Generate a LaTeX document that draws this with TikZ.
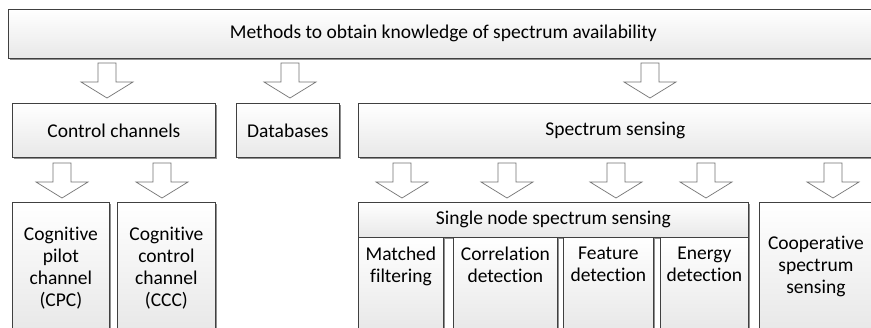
\documentclass[tikz,border=0pt]{standalone}
\usepackage{fontspec}
\setmainfont{Carlito}[Ligatures=NoCommon]
\usetikzlibrary{shadows}
\begin{document}
\begin{tikzpicture}[x=1pt,y=-1pt,
  box/.style={draw=black!75, line width=0.8pt, inner sep=0pt, anchor=north west,
    top color=white, bottom color=black!9,
    drop shadow={shadow xshift=2pt, shadow yshift=-2pt, fill=black!55, opacity=0.8}},
  lbl/.style={font=\fontsize{19.5}{22}\selectfont, align=center, inner sep=0pt},
  barrow/.style={draw=black!55, line width=0.7pt, fill=white, line join=miter},
  blockarrow/.pic={\draw[barrow] (-9,0) -- (9,0) -- (9,19) -- (26,19) -- (0,35) -- (-26,19) -- (-9,19) -- cycle;}]
\fill[white] (0,0) rectangle (871,327);
\useasboundingbox (0,0) rectangle (871,327);

% level 0
\node[box, minimum width=870pt, minimum height=49pt] (top) at (8,9) {};
\node[lbl] (toptxt) at (top.center) {Methods to obtain knowledge of spectrum availability};

% level 1
\node[box, minimum width=203pt, minimum height=54pt] (ctrl) at (12,103) {};
\node[lbl] (ctrltxt) at (ctrl.center) {Control channels};
\node[box, minimum width=103pt, minimum height=54pt] (db) at (236,103) {};
\node[lbl] (dbtxt) at (db.center) {Databases};
\node[box, minimum width=514pt, minimum height=54pt] (ss) at (358,103) {};
\node[lbl] (sstxt) at (ss.center) {Spectrum sensing};

% level 2
\node[box, minimum width=97pt, minimum height=127pt] (cpc) at (12,202) {};
\node[lbl] (cpctxt) at ([yshift=-2pt]cpc.center) {Cognitive\\pilot\\channel\\(CPC)};
\node[box, minimum width=98pt, minimum height=127pt] (ccc) at (117,202) {};
\node[lbl] (ccctxt) at ([yshift=-2pt]ccc.center) {Cognitive\\control\\channel\\(CCC)};

\node[box, minimum width=390pt, minimum height=35pt] (single) at (358,202) {};
\node[lbl] (singletxt) at (single.center) {Single node spectrum sensing};
\node[box, minimum width=85pt, minimum height=92pt] (mf) at (358,237) {};
\node[lbl, anchor=north] (mftxt) at ([yshift=-10pt]mf.north) {Matched\\filtering};
\node[box, minimum width=104pt, minimum height=92pt] (cd) at (453,237) {};
\node[lbl, anchor=north] (cdtxt) at ([yshift=-10pt]cd.north) {Correlation\\detection};
\node[box, minimum width=90pt, minimum height=92pt] (fd) at (563,237) {};
\node[lbl, anchor=north] (fdtxt) at ([yshift=-10pt]fd.north) {Feature\\detection};
\node[box, minimum width=88pt, minimum height=92pt] (ed) at (660,237) {};
\node[lbl, anchor=north] (edtxt) at ([yshift=-10pt]ed.north) {Energy\\detection};

\node[box, minimum width=113pt, minimum height=127pt] (coop) at (759,202) {};
\node[lbl] (cooptxt) at ([yshift=-1pt]coop.center) {Cooperative\\spectrum\\sensing};

% block arrows between levels
\pic (a1) at (107,63) {blockarrow};
\pic (a2) at (290,63) {blockarrow};
\pic (a3) at (650,63) {blockarrow};
\pic (a4) at (62,163) {blockarrow};
\pic (a5) at (162,163) {blockarrow};
\pic (a6) at (402,163) {blockarrow};
\pic (a7) at (507,163) {blockarrow};
\pic (a8) at (616,163) {blockarrow};
\pic (a9) at (706,163) {blockarrow};
\pic (a10) at (833,163) {blockarrow};
\end{tikzpicture}
\end{document}
